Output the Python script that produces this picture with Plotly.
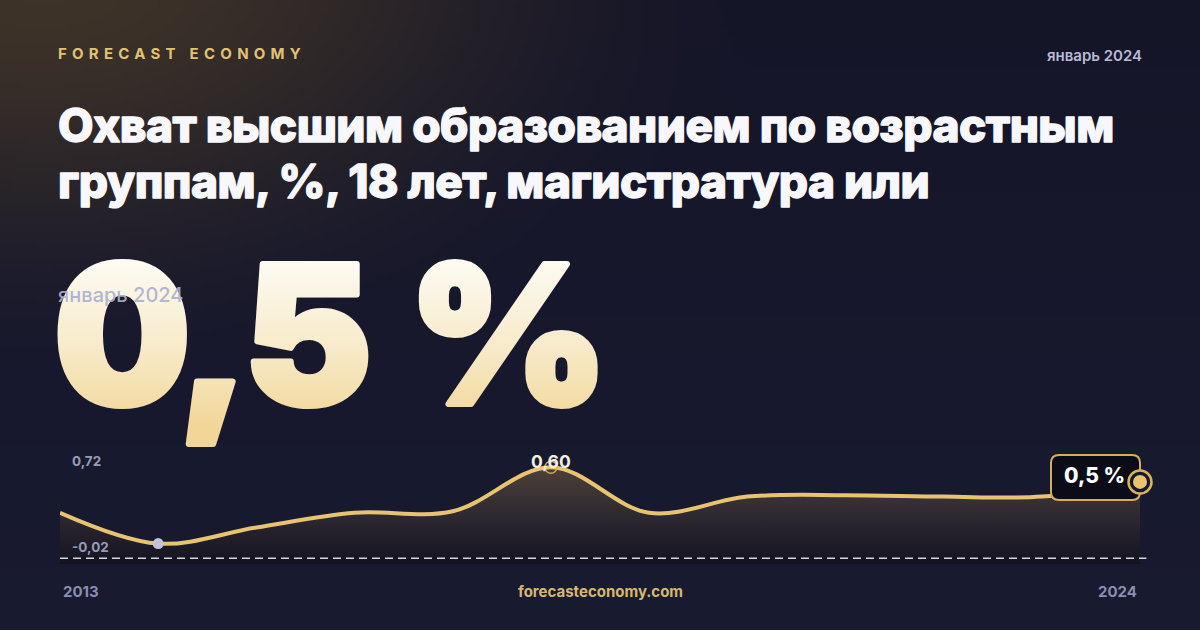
import base64, math, struct, zlib
import plotly.graph_objects as go

# ---------------- data ----------------
years = [2013, 2014, 2015, 2016, 2017, 2018, 2019, 2020, 2021, 2022, 2023, 2024]
values = [0.29, 0.08, 0.19, 0.29, 0.30, 0.60, 0.29, 0.40, 0.41, 0.40, 0.40, 0.50]
axis_top_label = 0.72
axis_bottom_label = -0.02
brand = "FORECAST ECONOMY"
period = "январь 2024"
title_lines = ["Охват высшим образованием по возрастным",
               "группам, %, 18 лет, магистратура или"]
site = "forecasteconomy.com"

W, H = 1200, 630
GOLD = "#e8c470"
NAVY = "#15162b"


def fmt(v, nd=2):
    return f"{v:.{nd}f}".replace(".", ",")


def px(xp):
    return xp / W


def py(yp):
    return 1 - yp / H


# ---------------- background image (radial warm glow) ----------------
def make_bg(w=240, h=126):
    raw = bytearray()
    warm = (62, 51, 40)
    base_top = (21, 21, 40)
    base_bot = (24, 26, 48)
    for j in range(h):
        raw.append(0)
        Y = j / (h - 1) * H
        for i in range(w):
            X = i / (w - 1) * W
            d = math.sqrt(((X - 40) / 740) ** 2 + ((Y + 30) / 420) ** 2)
            t = max(0.0, 1 - d)
            t = t * t * (3 - 2 * t)
            f = Y / H
            b = [base_top[k] * (1 - f) + base_bot[k] * f for k in range(3)]
            c = [int(round(b[k] * (1 - t) + warm[k] * t)) for k in range(3)]
            raw.extend(bytes(c))

    def chunk(tag, data):
        return (struct.pack(">I", len(data)) + tag + data +
                struct.pack(">I", zlib.crc32(tag + data) & 0xFFFFFFFF))

    png = (b"\x89PNG\r\n\x1a\n" +
           chunk(b"IHDR", struct.pack(">IIBBBBB", w, h, 8, 2, 0, 0, 0)) +
           chunk(b"IDAT", zlib.compress(bytes(raw), 9)) +
           chunk(b"IEND", b""))
    return "data:image/png;base64," + base64.b64encode(png).decode()


# ---------------- figure ----------------
ymax = max(values)
ymin = min(values)
imax = values.index(ymax)
imin = values.index(ymin)

# plot-area mapping: x 60..1140 px for 2013..2024 (extra room on the right for the end marker)
PX_PER_YEAR = 1080 / (years[-1] - years[0])
X_PAD_PX = 25
y_lo, y_hi = -0.0588, 0.724

fig = go.Figure()

# baseline for fill
fig.add_trace(go.Scatter(x=[years[0], years[-1]], y=[y_lo, y_lo], mode="lines",
                         line=dict(width=0, color="rgba(0,0,0,0)"),
                         hoverinfo="skip", showlegend=False))
# area + line
fig.add_trace(go.Scatter(
    x=years, y=values, mode="lines",
    line=dict(color=GOLD, width=4, shape="spline", smoothing=1),
    fill="tonexty",
    fillgradient=dict(type="vertical", start=y_lo, stop=ymax,
                      colorscale=[[0, "#131320"], [0.45, "#2b2630"], [1, "#4c4038"]]),
    hoverinfo="skip", showlegend=False))

# dashed reference line
fig.add_shape(type="line", xref="x", yref="y", x0=years[0], x1=years[-1] + 0.065,
              y0=axis_bottom_label, y1=axis_bottom_label,
              line=dict(color="rgba(235,235,245,0.9)", width=1.5, dash="8px,5px"))

# min dot
fig.add_trace(go.Scatter(x=[years[imin]], y=[ymin], mode="markers",
                         marker=dict(size=11, color="#c0c3dc", line=dict(width=0)),
                         hoverinfo="skip", showlegend=False))
# max ring
fig.add_trace(go.Scatter(x=[years[imax]], y=[ymax], mode="markers",
                         marker=dict(size=12, color="rgba(0,0,0,0)", symbol="circle",
                                     line=dict(width=1.5, color="#d2a84f")),
                         hoverinfo="skip", showlegend=False))

# end label box (rounded), anchored to last point
r = 8
x0b, x1b, y0b, y1b = -89, 0, -18, 27
path = (f"M {x0b + r},{y1b} L {x1b - r},{y1b} Q {x1b},{y1b} {x1b},{y1b - r} "
        f"L {x1b},{y0b + r} Q {x1b},{y0b} {x1b - r},{y0b} L {x0b + r},{y0b} "
        f"Q {x0b},{y0b} {x0b},{y0b + r} L {x0b},{y1b - r} Q {x0b},{y1b} {x0b + r},{y1b} Z")
fig.add_shape(type="path", xref="x", yref="y", xsizemode="pixel", ysizemode="pixel",
              xanchor=years[-1], yanchor=values[-1], path=path,
              fillcolor="#0b0c18", line=dict(color="#d4af5f", width=2))

# end marker: ring + dot (shapes so they sit above the box)
for rad, fill, lw in [(11.5, "#17172b", 2.5), (7, GOLD, 0)]:
    fig.add_shape(type="circle", xref="x", yref="y", xsizemode="pixel", ysizemode="pixel",
                  xanchor=years[-1], yanchor=values[-1],
                  x0=-rad, x1=rad, y0=-rad, y1=rad, fillcolor=fill,
                  line=dict(color="#d9b25c", width=lw))

F = "Inter, 'Noto Sans', sans-serif"
ann = []


def A(text, x, y, size, color, weight=700, xanchor="left", yanchor="middle",
      xref="paper", yref="paper", **kw):
    font = dict(family=F, size=size, color=color, weight=weight)
    ann.append(dict(text=text, x=x, y=y, xref=xref, yref=yref, xanchor=xanchor,
                    yanchor=yanchor, showarrow=False, font=font, **kw))


A(f'<span style="letter-spacing:5.25px">{brand}</span>', px(56), py(53), 15, "#e2c275", 700)
A(period, px(1144), py(55), 15, "#b9bad6", 600, xanchor="right")
title_style = "letter-spacing:-0.55px;stroke:#f8f8fc;stroke-width:1.3px;stroke-linejoin:round"
A(f'<span style="{title_style}">{title_lines[0]}</span>', px(56), py(125), 46, "#f8f8fc", 800)
A(f'<span style="{title_style}">{title_lines[1]}</span>', px(56), py(181), 46, "#f8f8fc", 800)

# big number (vertical white -> gold gradient, solid fallback)
big_style = ("letter-spacing:-6px;fill:url(#bigGrad) #f8edcf;stroke:url(#bigGrad) #f8edcf;"
             "stroke-width:6px;stroke-linejoin:round")
big_num, big_unit = fmt(values[-1], 1), "%"
A(f'<span style="{big_style}">{big_num}<span style="letter-spacing:4px"> </span>{big_unit}</span>',
  px(52), py(334), 192, "#f8edcf", 900)
A(period, px(56), py(295), 20, "rgba(172,175,208,0.92)", 500)

# chart labels
A(fmt(axis_top_label), px(70), py(461.5), 13.5, "#9799b8", 700)
A(fmt(axis_bottom_label), px(70), py(547), 13.5, "#9799b8", 700)
A(fmt(ymax), years[imax], ymax, 17.5, "#f2eee2", 700, xanchor="center",
  yanchor="middle", xref="x", yref="y", yshift=6)
A(f"{fmt(values[-1], 1)} %", years[-1], values[-1], 21, "#ffffff", 800,
  xanchor="center", yanchor="middle", xref="x", yref="y", xshift=-46, yshift=6)

# footer
A(str(years[0]), px(61), py(591), 15, "#8b8eae", 700)
A(site, px(600), py(591), 15, "#d8b86e", 700, xanchor="center")
A(str(years[-1]), px(1139), py(591), 15, "#8b8eae", 700, xanchor="right")

fig.update_layout(
    width=W, height=H,
    margin=dict(l=0, r=0, t=0, b=0),
    paper_bgcolor=NAVY, plot_bgcolor="rgba(0,0,0,0)",
    showlegend=False,
    xaxis=dict(domain=[60 / W, (1140 + X_PAD_PX) / W],
               range=[years[0], years[-1] + X_PAD_PX / PX_PER_YEAR], visible=False,
               fixedrange=True),
    yaxis=dict(domain=[py(564), py(449)], range=[y_lo, y_hi], visible=False,
               fixedrange=True),
    images=[dict(source=make_bg(), xref="paper", yref="paper", x=0, y=1,
                 sizex=1, sizey=1, sizing="stretch", layer="below",
                 xanchor="left", yanchor="top")],
    annotations=ann,
)

post = """
document.body.style.margin='0';
document.body.style.background='#15162b';
var ns='http://www.w3.org/2000/svg';
var s=document.createElementNS(ns,'svg');
s.setAttribute('width','0');s.setAttribute('height','0');
s.style.position='absolute';s.style.left='0';s.style.top='0';
s.innerHTML='<defs><linearGradient id="bigGrad" x1="0" y1="0" x2="0" y2="1">'+
 '<stop offset="0.12" stop-color="#fefdf9"/><stop offset="0.55" stop-color="#f8ebcb"/>'+
 '<stop offset="0.9" stop-color="#f1d697"/></linearGradient></defs>';
document.body.appendChild(s);
"""
fig.write_html("out.html", config=dict(displayModeBar=False), post_script=post)
